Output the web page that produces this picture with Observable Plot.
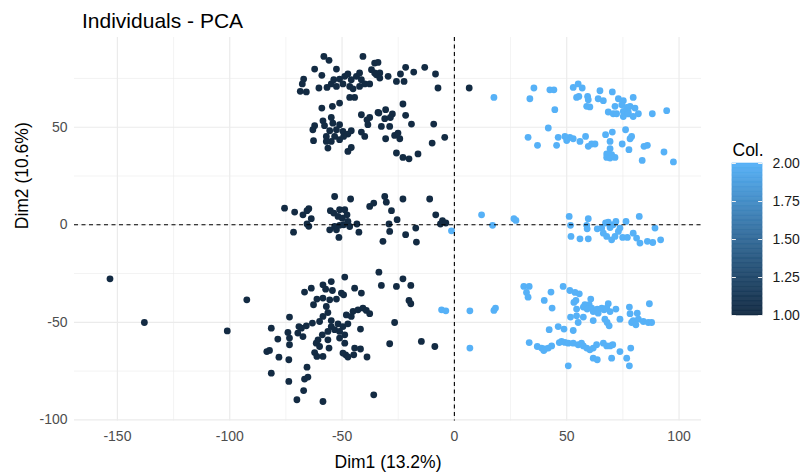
<!DOCTYPE html>
<html><head><meta charset="utf-8">
<script src="https://cdn.jsdelivr.net/npm/d3@7"></script>
<script src="https://cdn.jsdelivr.net/npm/@observablehq/plot@0.6"></script>
<style>
body{margin:0;background:#fff;font-family:"Liberation Sans",Arial,sans-serif;}
#wrap{position:relative;width:805px;height:475px;overflow:hidden;background:#fff;}
#main{position:absolute;left:0;top:0;}
#legend{position:absolute;left:700px;top:130px;}
#title{position:absolute;left:82px;top:9px;font-size:21px;line-height:24px;color:#000;white-space:nowrap;}
</style></head><body>
<div id="wrap"><div id="main"></div><div id="legend"></div><div id="title">Individuals - PCA</div></div>
<script>
// Col = 1 (dark) individuals: [Dim1, Dim2]
const darkPoints = [
[-58.1,86.3],[-55.8,84.3],[-40.7,86.3],[-62.2,79.8],[-52.5,79.8],[-59,76.6],[-36.9,79.5],[-67.1,74.7],[-67.7,72.2],[-68.6,68.4],[-65.9,68.1],[-60.3,70.1],[-56.7,70.4],[-54.8,72.2],[-53.7,74.4],[-51.1,74.7],[-48.8,76.1],[-47.4,77.3],[-52.5,70.9],[-49.6,72.2],[-45.9,74.4],[-43.6,76.1],[-42.2,77.8],[-41.4,74.4],[-46.6,70.9],[-45.1,69.7],[-42.2,70.9],[-39.9,72.2],[-37.7,72.2],[-35.5,77.8],[-46.6,65.3],[-44.4,65.3],[-51.1,62.4],[-54.3,60.7],[-59,59.8],
[-41.4,56.4],[-37.7,55],[-34,57.6],[-54.8,55],[-58.5,53.3],[-62.2,50.8],[-63,48.7],[-57.8,50.8],[-54.1,52.1],[-51.1,51.3],[-52.5,48.7],[-55.5,48.2],[-49.6,47.9],[-47.4,46.5],[-45.9,48.2],[-57,45.3],[-53.3,45.3],[-51.1,43.6],[-54.8,42.7],[-62.7,43.1],[-57,42.7],[-41.4,47.5],[-39.9,45.3],[-38.5,51.3],[-38.9,53.8],[-56.3,39.3],[-47.4,37.6],[-45.9,39.6],[-49.3,45.3],
[-35.5,82.9],[-34,83.2],[-33.2,77.8],[-34.7,76.9],[-33.2,75.2],[-29.5,76.1],[-25.8,73.5],[-22.4,73.5],[-24,77.3],[-21.7,80.7],[-18.1,78.3],[-13.2,80.7],[-8.4,77.3],[-7.3,70.1],[-22.9,61.9],[-33.6,57.3],[-30.6,59],[-27.6,56.8],[-31,54.4],[-28.5,55],[-21.7,56.1],[-32.5,50.4],[-28.8,50.4],[-19.1,51.6],[-9.2,51.6],[-26.6,45.8],[-25.1,47],[-24.3,44.1],[-30.6,44.1],[-4.3,44.8],[-9.9,41.9],[-25.8,36.8],[-22.9,34.5],[-20.2,33.8],[-16.2,36.3],[6.6,70.1],
[-75.6,8.5],[-71.1,6.5],[-67.4,5.1],[-64.8,8.2],[-65.6,7.2],[-63.7,3.1],[-65.6,0.4],[-64.8,-0.8],[-71.6,-3.8],[-53.3,14.5],[-55.2,7.2],[-53.7,6],[-51.1,7.7],[-48.8,7.7],[-51.8,4.3],[-49.9,3.4],[-47.8,5.1],[-47.4,1.7],[-46.6,-0.9],[-49.3,0],[-53.3,-0.9],[-55.5,-2.6],[-52.5,-2.6],[-51.1,-0.3],[-43.4,0.4],[-42.5,-3.8],[-51.4,-6.5],[-46.2,13.2],[-37.7,9.4],[-35.9,11.1],[-31,14.5],[-30.3,11.6],[-28,7.2],[-25.5,2.6],[-29.1,0.4],[-28.8,-3.4],[-31.8,-8.5],[-22.9,13.2],[-21.7,-5.1],[-17.2,-1.7],[-16.9,-8.9],[-11,13.2],[-8.3,5.1],[-5.3,2.1],[-6.2,0.4],[-3.8,0.9],
[-153.3,-27.7],[-138,-50.1],[-101.1,-54.4],[-92.4,-38.5],[-48.8,-26.8],[-54.8,-29.1],[-58.5,-30.8],[-63.7,-32.5],[-66.7,-34.5],[-57.3,-33],[-54.3,-33.7],[-50.3,-35],[-52.5,-38.1],[-55.5,-38.5],[-58.5,-37.6],[-61.2,-38.1],[-62.7,-41],[-57,-41.9],[-56.3,-45],[-58.5,-47],[-60,-49.6],[-63.2,-50.4],[-65.9,-51.8],[-68.1,-53],[-69.7,-55.5],[-67.4,-57.3],[-73.4,-47.3],[-81.5,-53],[-74.1,-55.2],[-73.4,-58.1],[-78.6,-58.6],[-73.4,-61.5],[-83.5,-65],[-82.3,-64.4],[-78.1,-67.9],[-73.7,-69.2],[-81.5,-76.1],[-73.7,-80.3],[-70.1,-89.7],[-67.1,-85],[-66.7,-79.1],[-65.2,-78.1],[-65.6,-73],[-58.5,-90.6],[-61.5,-60.7],[-62.2,-65.5],[-61.2,-67.5],[-58.5,-67.5],[-55.8,-63.2],[-60,-62.4],[-60.7,-59],[-58.8,-56.4],[-56.3,-54.7],[-54.8,-52.2],[-51.8,-50.8],[-49.6,-52.2],[-51.1,-58.1],[-48.4,-66.7],[-49.6,-65.8],[-48.1,-46.2],[-54.8,-49.1],[-53.3,-53.8],[-56.3,-59],[-69.2,-52.2],[-51.1,-54.7],
[-33.6,-24.3],[-22.9,-27.7],[-32.5,-31.1],[-25.8,-31.6],[-19.4,-31.1],[-44.4,-32.5],[-41.4,-35],[-49.3,-35.9],[-20.2,-38.8],[-19.4,-40.5],[-45.1,-44.4],[-42.9,-43.6],[-40.7,-42.7],[-39.2,-43.9],[-37.7,-45.6],[-45.9,-47],[-47.4,-50.8],[-41.8,-53.5],[-26.6,-50.1],[-48.8,-56.4],[-48.8,-60.7],[-44.4,-63.2],[-41.8,-63.7],[-47.4,-67.8],[-44.8,-66.7],[-38.9,-67.8],[-28.8,-61],[-14.7,-59.8],[-8.7,-62.4],[-35.9,-87.2]
];
// Col = 2 (light) individuals: [Dim1, Dim2]
const lightPoints = [
[-1.3,-3.1],[-5.7,-43.6],[-3.8,-44.1],
[17.6,65.3],[35.4,70.1],[33.6,64.6],[42.5,69.2],[44.3,69.2],[44.7,59],[41.8,49.6],[32.8,44.8],[37,40.7],[45.5,40.7],[46.2,44.8],[49.2,45.3],[51.4,44.8],[52.9,44.1],[50,43.2],
[52.9,70.4],[55.1,72.2],[56.9,70.1],[54.4,65.3],[55.4,65.8],[59.3,65.8],[59.6,64.1],[58.9,60.7],[60.3,60.4],[64.8,68.7],[70.3,68.1],[64,64.6],[66.3,63.6],[73,64.6],[75.2,63.6],[79.6,65.3],[71.5,60.7],[74.5,61.5],[76.7,60.2],[78.2,60.7],[80.4,59.8],[68.5,57.8],[70.7,56.9],[72.2,56.9],[75.2,58.1],[77.4,57.8],[75.2,55.5],[77.4,56.8],[79.6,55.5],[81.9,56.9],[88.1,56.9],[94.5,58.5],
[55.9,42.7],[58.4,45.3],[59.6,40.2],[61.1,41.4],[62.6,41.4],[67.3,46.2],[70.3,47.5],[76.2,48.7],[78.2,44.1],[78.9,45.3],[69.3,42.7],[74.7,41.4],[69.3,39],[77.7,38.5],[67.8,36.3],[67.8,34.5],[69.3,34.2],[71.5,34.5],[70,35.9],[84.4,40.2],[85.9,40.7],[83.6,33],[93.3,37.3],[97.5,32.2],
[12.1,5.1],[17,-0.3],[26.5,3.1],[27.4,2.2],[51.1,4.3],[51.7,-0.3],[51.9,-6],[55.9,-7.2],[59.6,-7.2],[58.9,-0.3],[59.6,3.1],[59.1,-2.1],[63.6,-2.1],[65.6,-1.7],[67.3,0.9],[68.5,1.4],[69.3,-1.4],[70.7,0],[71.9,1.7],[66.3,-4.3],[67.8,-6],[70,-7.7],[71.5,-6],[73,-3.4],[73.7,-1.7],[76.4,1.7],[74.9,-6.5],[77,-6.5],[79.6,-4.3],[81.1,-6.8],[82.6,-9.4],[82.3,4.3],[85.9,-8.5],[88.3,-9.1],[89.3,-1.7],[91.8,-7.7],
[6.9,-44.1],[17.6,-43.9],[18.3,-42.7],[6.9,-63.2],[30.9,-31.6],[33.3,-31.6],[32.1,-34.7],[32.8,-37.1],[43,-34.5],[40,-38.8],[43.5,-42.7],[42.2,-53.8],[46.2,-52.2],[33.3,-60.4],[36.9,-62.4],[38.8,-63.2],[40.3,-63.7],[41.8,-63.2],[43.3,-62.1],[39.8,-64.5],[46.7,-60.4],
[48.4,-31.6],[51.4,-33.7],[53.7,-34.7],[55.6,-35.4],[53.2,-39.8],[54.1,-38.8],[60.7,-38.1],[60,-41],[58.1,-41],[57.4,-42.2],[59.1,-43.2],[61.1,-42.7],[61.8,-44.5],[63.6,-43.2],[54.4,-43.2],[64,-45.3],[65.6,-42.7],[66.6,-43.6],[68.5,-40.5],[67.8,-42.7],[69.3,-44.5],[71.9,-43.2],[77.9,-42.2],[78.2,-45.6],[81.4,-45.3],[86.8,-40.5],[51.7,-47.3],[54.4,-46.7],[57.4,-47.3],[61.8,-49.1],[55.1,-50.1],[67,-48.4],[68,-50.1],[68.9,-51.8],[73.7,-48.4],[78.9,-50.1],[79.6,-49.1],[81.9,-48.4],[84.1,-49.6],[86.3,-50.1],[87.8,-50.1],[80.8,-51.3],[48.8,-53.5],[52.9,-54.2],
[47.7,-59.8],[49.2,-60.3],[50.7,-60.7],[52.9,-60.7],[55.1,-61.5],[56.6,-60.7],[57.4,-62.1],[58.9,-63.2],[60.3,-64.1],[61.8,-63.2],[63.3,-61.5],[66.3,-60.7],[67.8,-62.1],[69.3,-62.1],[70.5,-61.5],[61.8,-68.4],[63.6,-69.2],[70,-68.4],[73.7,-65],[78.5,-63.2],[76.7,-68.4],[77.9,-72.3],[50.7,-72.3]
];
const groupCol = {dark: 1, light: 2};
const xTicks = [-150, -100, -50, 0, 50, 100];
const xMinor = [-125, -75, -25, 25, 75];
const yTicks = [-100, -50, 0, 50];
const yMinor = [-75, -25, 25, 75];
const legendTicks = [1, 1.25, 1.5, 1.75, 2];
const colorRange = ["#132B43", "#56B1F7"];
const xTitle = "Dim1 (13.2%)";
const yTitle = "Dim2 (10.6%)";
const legendTitle = "Col.";

const data = [
  ...darkPoints.map(([x, y]) => ({x, y, col: groupCol.dark})),
  ...lightPoints.map(([x, y]) => ({x, y, col: groupCol.light}))
];
const colorScale = {type: "linear", domain: [1, 2], range: colorRange, interpolate: "lab"};
const fmt = d => String(d);
const grid = "#ebebeb";

const main = Plot.plot({
  width: 805, height: 475,
  marginLeft: 74, marginRight: 104, marginTop: 37, marginBottom: 54.5,
  x: {domain: [-169.1, 110]},
  y: {domain: [-100.6, 96]},
  color: colorScale,
  style: {fontFamily: "'Liberation Sans', Arial, sans-serif", fontSize: "14px", color: "#4d4d4d", background: "transparent", overflow: "visible"},
  marks: [
    Plot.ruleX(xMinor, {stroke: grid, strokeWidth: 0.6}),
    Plot.ruleY(yMinor, {stroke: grid, strokeWidth: 0.6}),
    Plot.ruleX(xTicks, {stroke: grid, strokeWidth: 1.2}),
    Plot.ruleY(yTicks, {stroke: grid, strokeWidth: 1.2}),
    Plot.dot(data, {x: "x", y: "y", fill: "col", r: 3.4}),
    Plot.ruleX([0], {stroke: "#000", strokeWidth: 1.1, strokeDasharray: "4,3.5"}),
    Plot.ruleY([0], {stroke: "#000", strokeWidth: 1.1, strokeDasharray: "4,3.5"}),
    Plot.axisX(xTicks, {tickSize: 0, tickPadding: 10, tickFormat: fmt, label: null, fill: "#4d4d4d", fontSize: 14}),
    Plot.axisY(yTicks, {tickSize: 0, tickPadding: 7, tickFormat: fmt, label: null, fill: "#4d4d4d", fontSize: 14}),
    Plot.text([xTitle], {frameAnchor: "bottom", dy: 41.5, lineAnchor: "middle", fontSize: 17.5, fill: "#000"}),
    Plot.text([yTitle], {frameAnchor: "left", dx: -52, rotate: -90, lineAnchor: "middle", fontSize: 17.5, fill: "#000"})
  ]
});
document.getElementById("main").appendChild(main);

// Colour bar legend
const steps = d3.range(0, 120).map(i => ({a: 1 + i / 120, b: 1 + (i + 1) / 120}));
const leg = Plot.plot({
  width: 105, height: 200,
  marginLeft: 32, marginRight: 43, marginTop: 33, marginBottom: 15,
  x: {domain: [0, 1], axis: null},
  y: {domain: [1, 2]},
  color: colorScale,
  style: {fontFamily: "'Liberation Sans', Arial, sans-serif", fontSize: "14px", color: "#1a1a1a", background: "transparent", overflow: "visible"},
  marks: [
    Plot.rect(steps, {x1: 0, x2: 1, y1: "a", y2: "b", fill: d => (d.a + d.b) / 2, stroke: d => (d.a + d.b) / 2, strokeWidth: 0.6}),
    Plot.ruleY(legendTicks, {x1: 0, x2: 0.13, stroke: "#f2f2f2", strokeWidth: 1}),
    Plot.ruleY(legendTicks, {x1: 0.87, x2: 1, stroke: "#f2f2f2", strokeWidth: 1}),
    Plot.axisY(legendTicks, {anchor: "right", tickSize: 0, tickPadding: 10, tickFormat: d3.format(".2f"), label: null, fill: "#1a1a1a", fontSize: 14}),
    Plot.text([legendTitle], {frameAnchor: "top-left", dy: -13, textAnchor: "start", lineAnchor: "middle", fontSize: 17.5, fill: "#000"})
  ]
});
document.getElementById("legend").appendChild(leg);
</script>
</body></html>
